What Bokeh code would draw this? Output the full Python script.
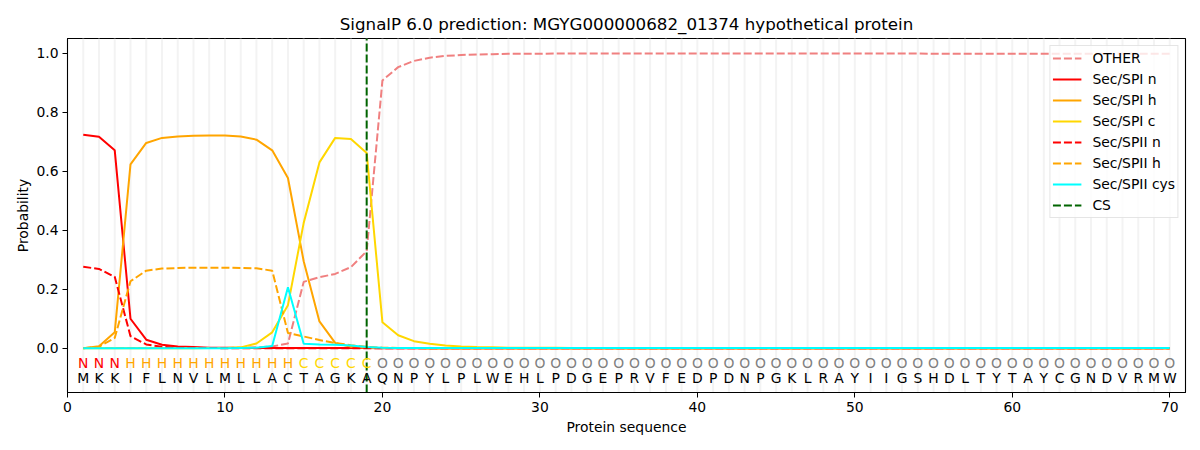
from bokeh.plotting import figure
from bokeh.models import FixedTicker, NumeralTickFormatter, Range1d, ColumnDataSource
from bokeh.core.properties import value
from bokeh.embed import file_html
from bokeh.resources import INLINE

title = "SignalP 6.0 prediction: MGYG000000682_01374 hypothetical protein"

sequence = list("MKKIFLNVLMLLACTAGKAQNPYLPLWEHLPDGEPRVFEDPDNPGKLRAYIIGSHDLTYTAYCGNDVRMW")
regions = list("NNNHHHHHHHHHHHCCCCC" + "O" * 51)
positions = list(range(1, len(sequence) + 1))
cs_position = 19

other = [0.001, 0.001, 0.001, 0.001, 0.001, 0.001, 0.001, 0.001, 0.001, 0.001,
         0.002, 0.003, 0.006, 0.016, 0.225, 0.241, 0.252, 0.275, 0.329, 0.908,
         0.953, 0.974, 0.985, 0.991, 0.994, 0.996, 0.997, 0.998, 0.998, 0.998,
         0.999, 0.999, 0.999, 0.999, 0.999, 0.999, 0.999, 0.999, 0.999, 0.999,
         0.999, 0.999, 0.999, 0.999, 0.999, 0.999, 0.999, 0.999, 0.999, 0.999,
         0.999, 0.999, 0.999, 0.999, 0.998, 0.998, 0.998, 0.998, 0.998, 0.998,
         0.998, 0.998, 0.998, 0.998, 0.998, 0.998, 0.998, 0.998, 0.998, 0.998]
sec_spi_n = [0.724, 0.717, 0.671, 0.100, 0.029, 0.012, 0.006, 0.004, 0.002, 0.002,
             0.001, 0.001, 0.001, 0.001, 0.001, 0.001, 0.001, 0.001, 0.001, 0.000,
             0.000, 0.000, 0.000, 0.000, 0.000, 0.000, 0.000, 0.000, 0.000, 0.000,
             0.000, 0.000, 0.000, 0.000, 0.000, 0.000, 0.000, 0.000, 0.000, 0.000,
             0.000, 0.000, 0.000, 0.000, 0.000, 0.000, 0.000, 0.000, 0.000, 0.000,
             0.000, 0.000, 0.000, 0.000, 0.000, 0.000, 0.000, 0.000, 0.000, 0.000,
             0.000, 0.000, 0.000, 0.000, 0.000, 0.000, 0.000, 0.000, 0.000, 0.000]
sec_spi_h = [0.000, 0.007, 0.054, 0.623, 0.696, 0.713, 0.718, 0.720, 0.721, 0.721,
             0.718, 0.707, 0.671, 0.577, 0.295, 0.091, 0.018, 0.005, 0.002, 0.001,
             0.001, 0.001, 0.000, 0.000, 0.000, 0.000, 0.000, 0.000, 0.000, 0.000,
             0.000, 0.000, 0.000, 0.000, 0.000, 0.000, 0.000, 0.000, 0.000, 0.000,
             0.000, 0.000, 0.000, 0.000, 0.000, 0.000, 0.000, 0.000, 0.000, 0.000,
             0.000, 0.000, 0.000, 0.000, 0.000, 0.000, 0.000, 0.000, 0.000, 0.000,
             0.000, 0.000, 0.000, 0.000, 0.000, 0.000, 0.000, 0.000, 0.000, 0.000]
sec_spi_c = [0.000, 0.000, 0.000, 0.000, 0.000, 0.000, 0.000, 0.000, 0.001, 0.001,
             0.003, 0.016, 0.054, 0.146, 0.425, 0.630, 0.713, 0.709, 0.662, 0.088,
             0.044, 0.024, 0.015, 0.009, 0.006, 0.004, 0.003, 0.002, 0.002, 0.002,
             0.002, 0.001, 0.001, 0.001, 0.001, 0.001, 0.001, 0.001, 0.001, 0.001,
             0.001, 0.001, 0.001, 0.001, 0.001, 0.001, 0.001, 0.001, 0.001, 0.001,
             0.001, 0.001, 0.001, 0.001, 0.001, 0.001, 0.001, 0.001, 0.001, 0.001,
             0.001, 0.001, 0.001, 0.001, 0.001, 0.001, 0.001, 0.001, 0.001, 0.001]
sec_spii_n = [0.276, 0.269, 0.242, 0.041, 0.013, 0.005, 0.002, 0.001, 0.001, 0.000,
              0.000, 0.000, 0.000, 0.000, 0.000, 0.000, 0.000, 0.000, 0.000, 0.000,
              0.000, 0.000, 0.000, 0.000, 0.000, 0.000, 0.000, 0.000, 0.000, 0.000,
              0.000, 0.000, 0.000, 0.000, 0.000, 0.000, 0.000, 0.000, 0.000, 0.000,
              0.000, 0.000, 0.000, 0.000, 0.000, 0.000, 0.000, 0.000, 0.000, 0.000,
              0.000, 0.000, 0.000, 0.000, 0.000, 0.000, 0.000, 0.000, 0.000, 0.000,
              0.000, 0.000, 0.000, 0.000, 0.000, 0.000, 0.000, 0.000, 0.000, 0.000]
sec_spii_h = [0.000, 0.005, 0.035, 0.227, 0.263, 0.270, 0.272, 0.273, 0.273, 0.273,
              0.272, 0.271, 0.263, 0.052, 0.040, 0.028, 0.018, 0.010, 0.005, 0.002,
              0.001, 0.001, 0.000, 0.000, 0.000, 0.000, 0.000, 0.000, 0.000, 0.000,
              0.000, 0.000, 0.000, 0.000, 0.000, 0.000, 0.000, 0.000, 0.000, 0.000,
              0.000, 0.000, 0.000, 0.000, 0.000, 0.000, 0.000, 0.000, 0.000, 0.000,
              0.000, 0.000, 0.000, 0.000, 0.000, 0.000, 0.000, 0.000, 0.000, 0.000,
              0.000, 0.000, 0.000, 0.000, 0.000, 0.000, 0.000, 0.000, 0.000, 0.000]
sec_spii_cys = [0.000, 0.000, 0.000, 0.000, 0.000, 0.000, 0.000, 0.000, 0.000, 0.000,
                0.001, 0.002, 0.008, 0.207, 0.015, 0.013, 0.012, 0.009, 0.004, 0.002,
                0.001, 0.001, 0.001, 0.001, 0.001, 0.001, 0.001, 0.001, 0.001, 0.001,
                0.001, 0.001, 0.001, 0.001, 0.001, 0.001, 0.001, 0.001, 0.001, 0.001,
                0.001, 0.001, 0.001, 0.001, 0.001, 0.001, 0.001, 0.001, 0.001, 0.001,
                0.001, 0.001, 0.001, 0.001, 0.001, 0.001, 0.001, 0.001, 0.001, 0.001,
                0.001, 0.001, 0.001, 0.001, 0.001, 0.001, 0.001, 0.001, 0.001, 0.001]

x_ticks = [0, 10, 20, 30, 40, 50, 60, 70]
y_ticks = [0.0, 0.2, 0.4, 0.6, 0.8, 1.0]
x_lim = (0, 71)
y_lim = (-0.15, 1.05)
region_label_y = -0.05
residue_label_y = -0.10

region_colors = {"N": "red", "H": "orange", "C": "gold", "O": "grey"}

FONT = "DejaVu Sans"
FS = "13.9px"

p = figure(width=1200, height=450, output_backend="svg", toolbar_location=None,
           x_range=Range1d(*x_lim), y_range=Range1d(*y_lim), title=title,
           min_border_left=67, min_border_right=15, min_border_top=38, min_border_bottom=58)

p.xgrid.visible = False
p.ygrid.visible = False
p.background_fill_color = "white"
p.border_fill_color = "white"
p.outline_line_color = "black"
p.outline_line_width = 1.1

# residue grid lines
p.segment(x0=positions, x1=positions, y0=[y_lim[0]] * len(positions), y1=[y_lim[1]] * len(positions),
          line_color="#f3f3f3", line_width=2)

dash = "8 3"
p.line(positions, other, line_color="lightcoral", line_width=2, line_dash=dash, legend_label="OTHER")
p.line(positions, sec_spi_n, line_color="red", line_width=2, legend_label="Sec/SPI n")
p.line(positions, sec_spi_h, line_color="orange", line_width=2, legend_label="Sec/SPI h")
p.line(positions, sec_spi_c, line_color="gold", line_width=2, legend_label="Sec/SPI c")
p.line(positions, sec_spii_n, line_color="red", line_width=2, line_dash=dash, legend_label="Sec/SPII n")
p.line(positions, sec_spii_h, line_color="orange", line_width=2, line_dash=dash, legend_label="Sec/SPII h")
p.line(positions, sec_spii_cys, line_color="cyan", line_width=2, legend_label="Sec/SPII cys")
p.segment(x0=[cs_position], x1=[cs_position], y0=[y_lim[0]], y1=[y_lim[1]],
          line_color="darkgreen", line_width=2, line_dash=dash, legend_label="CS")

src = ColumnDataSource(dict(
    x=positions,
    ry=[region_label_y] * len(positions),
    sy=[residue_label_y] * len(positions),
    region=regions,
    residue=sequence,
    rcolor=[region_colors[r] for r in regions],
))
p.text(x="x", y="ry", text="region", text_color="rcolor", source=src, text_align="center",
       text_baseline="middle", text_font=value(FONT), text_font_size=FS)
p.text(x="x", y="sy", text="residue", text_color="black", source=src, text_align="center",
       text_baseline="middle", text_font=value(FONT), text_font_size=FS)

p.title.text_font = FONT
p.title.text_font_size = "16.7px"
p.title.text_font_style = "normal"
p.title.align = "center"
p.title.text_color = "black"

p.xaxis.ticker = FixedTicker(ticks=x_ticks)
p.yaxis.ticker = FixedTicker(ticks=y_ticks)
p.yaxis.formatter = NumeralTickFormatter(format="0.0")
p.xaxis.axis_label = "Protein sequence"
p.yaxis.axis_label = "Probability"
for ax in (p.xaxis, p.yaxis):
    ax.major_label_text_font = FONT
    ax.major_label_text_font_size = FS
    ax.major_label_text_color = "black"
    ax.axis_label_text_font = FONT
    ax.axis_label_text_font_size = FS
    ax.axis_label_text_font_style = "normal"
    ax.axis_label_text_color = "black"
    ax.minor_tick_line_color = None
    ax.major_tick_in = 0
    ax.major_tick_out = 5
    ax.major_tick_line_color = "black"
    ax.axis_line_color = "black"
    ax.major_label_standoff = 4
p.xaxis.axis_label_standoff = 4
p.yaxis.axis_label_standoff = 2

leg = p.legend[0]
leg.location = "top_right"
leg.margin = 7
leg.padding = 2
leg.spacing = 1
leg.label_height = 20
leg.glyph_height = 20
leg.glyph_width = 29
leg.label_standoff = 11
leg.label_text_font = FONT
leg.label_text_font_size = FS
leg.label_text_color = "black"
leg.border_line_color = "#cccccc"
leg.background_fill_alpha = 0.8

open("out.html", "w").write(file_html(p, INLINE))
